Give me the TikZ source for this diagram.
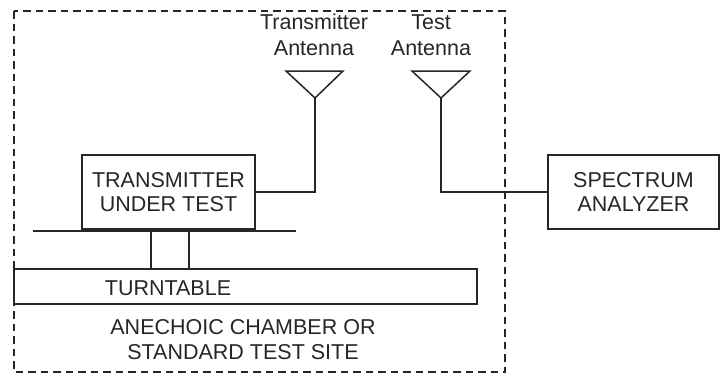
\documentclass[tikz,border=0pt]{standalone}
\usepackage{fontspec}
\setmainfont{Liberation Sans}
\begin{document}
\begin{tikzpicture}[x=1pt,y=-1pt,
  ink/.style={draw=black!85, line width=1.5pt},
  box/.style={ink, rectangle, inner sep=0pt, align=center, text=black!85,
    font=\fontsize{21.5}{23.5}\selectfont},
  lbl/.style={inner sep=0pt, align=center, text=black!85, font=\fontsize{21.5}{25.5}\selectfont},
  wire/.style={ink}]
\useasboundingbox (0,0) rectangle (721,376);
% chamber
\draw[draw=black!85, line width=1.5pt, dash pattern=on 7.5pt off 5pt] (14,11) rectangle (505,372);
% boxes
\node[box, minimum width=173pt, minimum height=74pt] (tx) at (168.5,192) {TRANSMITTER\\UNDER TEST};
\node[box, minimum width=171pt, minimum height=74pt] (sa) at (633.5,192) {SPECTRUM\\ANALYZER};
\node[box, minimum width=463pt, minimum height=35pt] (tt) at (245.5,286.5) {};
\node[lbl] (ttl) at (168,288) {TURNTABLE};
\node[lbl] (ch) at (243,339.5) {ANECHOIC CHAMBER OR\\STANDARD TEST SITE};
% platform
\coordinate (pl) at (33,231);
\coordinate (pr) at (296,231);
\draw[wire] (pl) -- (pr);
\coordinate (l1) at (151,231);
\coordinate (l2) at (189,231);
\draw[wire] (l1) -- (l1 |- tt.north);
\draw[wire] (l2) -- (l2 |- tt.north);
% antennas
\coordinate (ta1) at (286,71); \coordinate (ta2) at (343,71); \coordinate (tap) at (315,98);
\draw[ink, line join=miter] (ta1) -- (ta2) -- (tap) -- cycle;
\coordinate (ra1) at (412,71); \coordinate (ra2) at (470,71); \coordinate (rap) at (441,98);
\draw[ink, line join=miter] (ra1) -- (ra2) -- (rap) -- cycle;
\node[lbl] (tal) at (314,35) {Transmitter\\Antenna};
\node[lbl] (ral) at (431,35) {Test\\Antenna};
% wires
\draw[wire] (tap) |- (tx.east);
\draw[wire] (rap) |- (sa.west);
\end{tikzpicture}
\end{document}
